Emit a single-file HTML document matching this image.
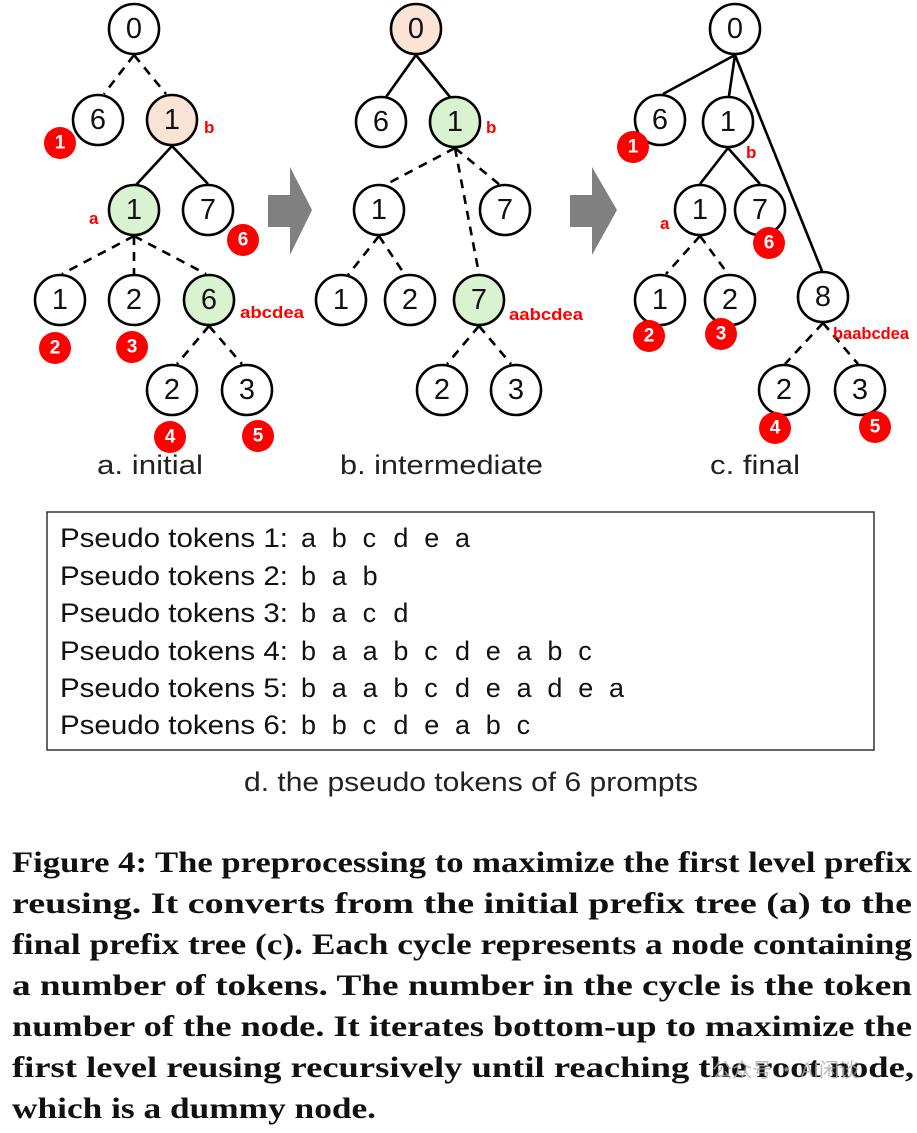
<!DOCTYPE html>
<html><head><meta charset="utf-8"><style>
html,body{margin:0;padding:0;background:#fff;}
svg{display:block}
.n{font-family:"Liberation Sans",sans-serif;font-size:29px;text-anchor:middle;dominant-baseline:central;fill:#111}
.bd{font-family:"Liberation Sans",sans-serif;font-size:19px;font-weight:bold;fill:#fff;text-anchor:middle;dominant-baseline:central}
.lb{font-family:"Liberation Sans",sans-serif;font-size:17px;font-weight:bold;fill:#f00}
.cap{font-family:"Liberation Sans",sans-serif;font-size:27px;fill:#222}
.pt{font-family:"Liberation Sans",sans-serif;font-size:27px;fill:#111}
.fc{font-family:"Liberation Serif",serif;font-size:30px;font-weight:bold;fill:#111}
</style></head><body>
<svg width="917" height="1133" viewBox="0 0 917 1133" xmlns="http://www.w3.org/2000/svg">
<g stroke="#000" stroke-width="2.6" fill="none">
<g stroke-dasharray="9,7"><line x1="134" y1="55" x2="104" y2="94"/><line x1="134" y1="55" x2="166" y2="94"/>
<line x1="134" y1="236" x2="62" y2="274"/><line x1="134" y1="236" x2="134" y2="274"/><line x1="134" y1="236" x2="206" y2="274"/>
<line x1="209" y1="326" x2="177" y2="364"/><line x1="209" y1="326" x2="242" y2="364"/></g>
<line x1="172" y1="146" x2="136" y2="185"/><line x1="172" y1="146" x2="208" y2="184"/>
<line x1="416" y1="55" x2="386" y2="97"/><line x1="416" y1="55" x2="450" y2="97"/>
<g stroke-dasharray="9,7"><line x1="455" y1="148" x2="385" y2="185"/><line x1="455" y1="148" x2="479" y2="274"/><line x1="455" y1="148" x2="500" y2="185"/>
<line x1="379" y1="236" x2="348" y2="275"/><line x1="379" y1="236" x2="405" y2="275"/>
<line x1="479" y1="326" x2="447" y2="364"/><line x1="479" y1="326" x2="511" y2="364"/></g>
<line x1="735" y1="55" x2="663" y2="94"/><line x1="735" y1="55" x2="729" y2="96"/><line x1="735" y1="55" x2="822" y2="271"/>
<line x1="728" y1="148" x2="700" y2="184"/><line x1="728" y1="148" x2="760" y2="184"/>
<g stroke-dasharray="9,7"><line x1="700" y1="236" x2="666" y2="274"/><line x1="700" y1="236" x2="728" y2="274"/>
<line x1="823" y1="323" x2="785" y2="364"/><line x1="823" y1="323" x2="858" y2="364"/></g>
</g>
<polygon points="268,195 290,195 290,167 312,210 290,255 290,227 268,227" fill="#808080"/>
<polygon points="570,195 592,195 592,167 617,210 592,255 592,227 570,227" fill="#808080"/>
<g stroke="#000" stroke-width="2.6">
<circle cx="134" cy="29" r="25" fill="#fff"/><circle cx="98" cy="120" r="25" fill="#fff"/><circle cx="172" cy="120" r="25" fill="#fbe3d6"/>
<circle cx="134" cy="210" r="25" fill="#d9f2d0"/><circle cx="208" cy="210" r="25" fill="#fff"/>
<circle cx="60" cy="300" r="25" fill="#fff"/><circle cx="134" cy="300" r="25" fill="#fff"/><circle cx="209" cy="300" r="25" fill="#d9f2d0"/>
<circle cx="172" cy="390" r="25" fill="#fff"/><circle cx="247" cy="390" r="25" fill="#fff"/>
<circle cx="416" cy="29" r="25" fill="#fbe3d6"/><circle cx="381" cy="122" r="25" fill="#fff"/><circle cx="455" cy="122" r="25" fill="#d9f2d0"/>
<circle cx="379" cy="210" r="25" fill="#fff"/><circle cx="505" cy="210" r="25" fill="#fff"/>
<circle cx="341" cy="300" r="25" fill="#fff"/><circle cx="410" cy="300" r="25" fill="#fff"/><circle cx="479" cy="300" r="25" fill="#d9f2d0"/>
<circle cx="442" cy="390" r="25" fill="#fff"/><circle cx="516" cy="390" r="25" fill="#fff"/>
<circle cx="735" cy="29" r="25" fill="#fff"/><circle cx="660" cy="120" r="25" fill="#fff"/><circle cx="728" cy="122" r="25" fill="#fff"/>
<circle cx="700" cy="210" r="25" fill="#fff"/><circle cx="760" cy="210" r="25" fill="#fff"/>
<circle cx="660" cy="300" r="25" fill="#fff"/><circle cx="730" cy="300" r="25" fill="#fff"/><circle cx="823" cy="297" r="25" fill="#fff"/>
<circle cx="784" cy="390" r="25" fill="#fff"/><circle cx="860" cy="390" r="25" fill="#fff"/>
</g>
<g>
<text class="n" x="134" y="29">0</text><text class="n" x="98" y="120">6</text><text class="n" x="172" y="120">1</text>
<text class="n" x="134" y="210">1</text><text class="n" x="208" y="210">7</text>
<text class="n" x="60" y="300">1</text><text class="n" x="134" y="300">2</text><text class="n" x="209" y="300">6</text>
<text class="n" x="172" y="390">2</text><text class="n" x="247" y="390">3</text>
<text class="n" x="416" y="29">0</text><text class="n" x="381" y="122">6</text><text class="n" x="455" y="122">1</text>
<text class="n" x="379" y="210">1</text><text class="n" x="505" y="210">7</text>
<text class="n" x="341" y="300">1</text><text class="n" x="410" y="300">2</text><text class="n" x="479" y="300">7</text>
<text class="n" x="442" y="390">2</text><text class="n" x="516" y="390">3</text>
<text class="n" x="735" y="29">0</text><text class="n" x="660" y="120">6</text><text class="n" x="728" y="122">1</text>
<text class="n" x="700" y="210">1</text><text class="n" x="760" y="210">7</text>
<text class="n" x="660" y="300">1</text><text class="n" x="730" y="300">2</text><text class="n" x="823" y="297">8</text>
<text class="n" x="784" y="390">2</text><text class="n" x="860" y="390">3</text>
</g>
<g fill="#f00">
<circle cx="60" cy="143" r="16"/><circle cx="243" cy="240" r="16"/><circle cx="55" cy="348" r="16"/><circle cx="132" cy="347" r="16"/><circle cx="170" cy="437" r="16"/><circle cx="258" cy="436" r="16"/>
<circle cx="633" cy="147" r="16"/><circle cx="769" cy="243" r="16"/><circle cx="649" cy="336" r="16"/><circle cx="721" cy="334" r="16"/><circle cx="775" cy="428" r="16"/><circle cx="875" cy="427" r="16"/>
</g>
<text class="bd" x="60" y="143">1</text><text class="bd" x="243" y="240">6</text><text class="bd" x="55" y="348">2</text><text class="bd" x="132" y="347">3</text><text class="bd" x="170" y="437">4</text><text class="bd" x="258" y="436">5</text>
<text class="bd" x="633" y="147">1</text><text class="bd" x="769" y="243">6</text><text class="bd" x="649" y="336">2</text><text class="bd" x="721" y="334">3</text><text class="bd" x="775" y="428">4</text><text class="bd" x="875" y="427">5</text>
<text class="lb" x="204" y="133">b</text><text class="lb" x="89" y="224">a</text><text class="lb" x="240" y="318" textLength="64" lengthAdjust="spacingAndGlyphs">abcdea</text>
<text class="lb" x="486" y="133">b</text><text class="lb" x="509" y="320" textLength="74" lengthAdjust="spacingAndGlyphs">aabcdea</text>
<text class="lb" x="746" y="158">b</text><text class="lb" x="660" y="229">a</text><text class="lb" x="833" y="339" textLength="76" lengthAdjust="spacingAndGlyphs">baabcdea</text>
<text class="cap" x="97" y="474" textLength="106" lengthAdjust="spacingAndGlyphs">a. initial</text><text class="cap" x="340" y="474" textLength="203" lengthAdjust="spacingAndGlyphs">b. intermediate</text><text class="cap" x="710" y="474" textLength="90" lengthAdjust="spacingAndGlyphs">c. final</text>
<rect x="47" y="512" width="827" height="238" fill="none" stroke="#333" stroke-width="1.5"/>
<g class="pt">
<text x="60" y="547" textLength="228" lengthAdjust="spacingAndGlyphs">Pseudo tokens 1:</text><text x="60" y="585" textLength="228" lengthAdjust="spacingAndGlyphs">Pseudo tokens 2:</text><text x="60" y="622" textLength="228" lengthAdjust="spacingAndGlyphs">Pseudo tokens 3:</text>
<text x="60" y="660" textLength="228" lengthAdjust="spacingAndGlyphs">Pseudo tokens 4:</text><text x="60" y="697" textLength="228" lengthAdjust="spacingAndGlyphs">Pseudo tokens 5:</text><text x="60" y="734" textLength="228" lengthAdjust="spacingAndGlyphs">Pseudo tokens 6:</text>
<text x="301 331.8 362.6 393.4 424.2 455" y="547">abcdea</text>
<text x="301 331.8 362.6" y="585">bab</text>
<text x="301 331.8 362.6 393.4" y="622">bacd</text>
<text x="301 331.8 362.6 393.4 424.2 455 485.8 516.6 547.4 578.2" y="660">baabcdeabc</text>
<text x="301 331.8 362.6 393.4 424.2 455 485.8 516.6 547.4 578.2 609" y="697">baabcdeadea</text>
<text x="301 331.8 362.6 393.4 424.2 455 485.8 516.6" y="734">bbcdeabc</text>
</g>
<text class="cap" x="244" y="791" textLength="454" lengthAdjust="spacingAndGlyphs">d. the pseudo tokens of 6 prompts</text>
<g class="fc">
<text x="12" y="872" textLength="900" lengthAdjust="spacingAndGlyphs">Figure 4: The preprocessing to maximize the first level prefix</text>
<text x="12" y="913" textLength="900" lengthAdjust="spacingAndGlyphs">reusing. It converts from the initial prefix tree (a) to the</text>
<text x="12" y="954" textLength="900" lengthAdjust="spacingAndGlyphs">final prefix tree (c). Each cycle represents a node containing</text>
<text x="12" y="995" textLength="900" lengthAdjust="spacingAndGlyphs">a number of tokens. The number in the cycle is the token</text>
<text x="12" y="1036" textLength="900" lengthAdjust="spacingAndGlyphs">number of the node. It iterates bottom-up to maximize the</text>
<text x="12" y="1077" textLength="902" lengthAdjust="spacingAndGlyphs">first level reusing recursively until reaching the root node,</text>
<text x="12" y="1118" textLength="364" lengthAdjust="spacingAndGlyphs">which is a dummy node.</text>
</g>
<text x="712" y="1077" style="font-family:'Noto Sans CJK SC',sans-serif;font-size:20px;fill:#aaa;opacity:0.8">公众号 · AI闲谈</text>
</svg>
</body></html>
